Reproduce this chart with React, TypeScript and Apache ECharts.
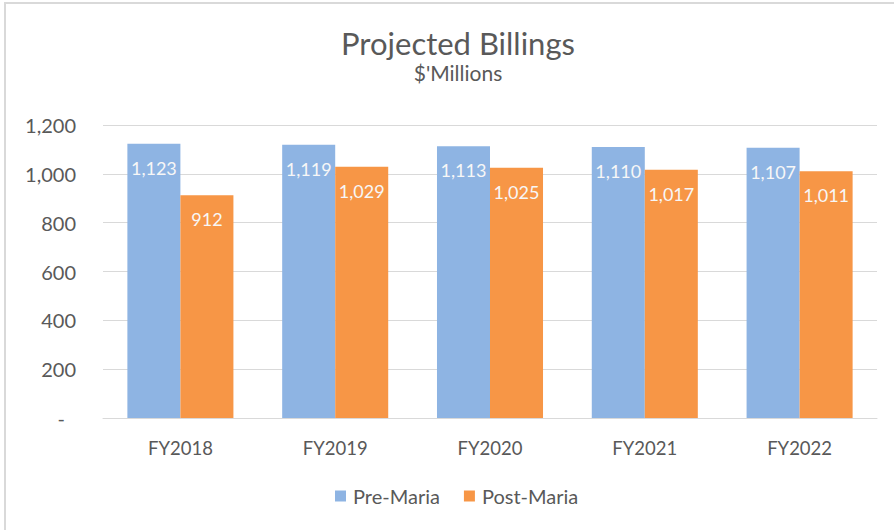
import React, { useEffect, useRef } from "react";
import * as echarts from "echarts";

const categories = ["FY2018", "FY2019", "FY2020", "FY2021", "FY2022"];
const preMaria = [1123, 1119, 1113, 1110, 1107];
const postMaria = [912, 1029, 1025, 1017, 1011];
const yTicks = { min: 0, max: 1200, interval: 200 };

const FONT = "Lato, 'Open Sans', sans-serif";
const TEXT = "#595959";

const fmt = (v: number) => v.toLocaleString("en-US");

export default function App() {
  const ref = useRef<HTMLDivElement>(null);
  useEffect(() => {
    if (!ref.current) return;
    const chart = echarts.init(ref.current, null, { renderer: "svg" });
    const label = {
      show: true,
      position: "insideTop",
      distance: 15,
      color: "#F7F7F7",
      fontFamily: FONT,
      fontSize: 18,
      formatter: (p: any) => fmt(p.value),
    };
    chart.setOption({
      animation: false,
      backgroundColor: "#FFFFFF",
      textStyle: { fontFamily: FONT },
      title: {
        text: "Projected Billings",
        subtext: "$'Millions",
        left: 453,
        textAlign: "center",
        top: 22,
        itemGap: 4,
        textStyle: { fontFamily: FONT, fontSize: 31, fontWeight: "normal", color: TEXT },
        subtextStyle: { fontFamily: FONT, fontSize: 21, color: TEXT },
      },
      legend: {
        bottom: 24,
        left: 335,
        padding: 0,
        itemWidth: 11,
        itemHeight: 11,
        itemGap: 24,
        icon: "rect",
        textStyle: { fontFamily: FONT, fontSize: 20, color: TEXT, padding: [0, 0, 0, 2] },
        data: ["Pre-Maria", "Post-Maria"],
      },
      grid: { left: 103, right: 17, top: 125, bottom: 112, containLabel: false },
      xAxis: {
        type: "category",
        data: categories,
        axisLine: { show: true, lineStyle: { color: "#D9D9D9", width: 1 } },
        axisTick: { show: false },
        axisLabel: { color: TEXT, fontFamily: FONT, fontSize: 18.5, margin: 20 },
      },
      yAxis: {
        type: "value",
        min: yTicks.min,
        max: yTicks.max,
        interval: yTicks.interval,
        axisLine: { show: false },
        axisTick: { show: false },
        splitLine: { lineStyle: { color: "#D9D9D9", width: 1 } },
        axisLabel: {
          color: TEXT,
          fontFamily: FONT,
          fontSize: 20,
          margin: 27,
          formatter: (v: number) => (v === 0 ? "{d|-}" : fmt(v)),
          rich: { d: { color: TEXT, fontFamily: FONT, fontSize: 20, padding: [0, 11, 0, 0] } },
        },
      },
      series: [
        {
          name: "Pre-Maria",
          type: "bar",
          data: preMaria,
          barGap: "0%",
          barCategoryGap: "31.5%",
          itemStyle: { color: "#8EB4E3" },
          label,
        },
        {
          name: "Post-Maria",
          type: "bar",
          data: postMaria,
          barGap: "0%",
          barCategoryGap: "31.5%",
          itemStyle: { color: "#F79646" },
          label,
        },
      ],
      graphic: [
        {
          type: "rect",
          shape: { x: 5, y: 3, width: 900, height: 540 },
          style: { fill: "none", stroke: "#D9D9D9", lineWidth: 2 },
          silent: true,
        },
      ],
    });
    return () => chart.dispose();
  }, []);
  return (
    <div
      ref={ref}
      style={{ position: "fixed", left: 0, top: 0, width: 894, height: 530 }}
    />
  );
}
